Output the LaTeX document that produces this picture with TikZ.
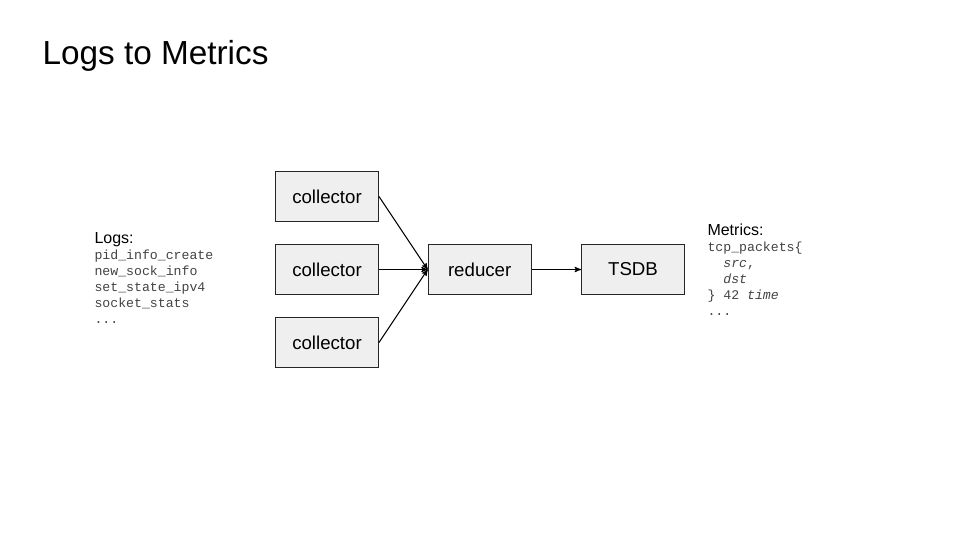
\documentclass[tikz,border=0pt]{standalone}
\usepackage{fontspec}
\setmainfont{Liberation Sans}
\setsansfont{Liberation Sans}
\setmonofont{Liberation Mono}
\usepackage{xcolor}
\usepackage{tikz}
\usetikzlibrary{arrows}
\usetikzlibrary{positioning}
\definecolor{boxfill}{HTML}{EFEFEF}
\definecolor{codegray}{HTML}{434343}

\begin{document}
\begin{tikzpicture}[x=0.75pt,y=-0.75pt,->,>=stealth',semithick,line width=0.75pt]
  \tikzstyle{stage}=[draw=black!85, fill=boxfill, minimum width=77.25pt, minimum height=37.5pt, inner sep=0pt, font=\fontsize{14}{16}\selectfont]
  \tikzstyle{head}=[anchor=base west, inner sep=0pt, font=\fontsize{12}{14}\selectfont]
  \tikzstyle{code}=[anchor=north west, inner sep=0pt, align=left, text=codegray, font=\ttfamily\fontsize{9.9}{12}\selectfont]
  \useasboundingbox (0,0) rectangle (960,540);
  \node[anchor=base west, inner sep=0pt, font=\fontsize{25}{30}\selectfont] (title) at (42,64) {Logs to Metrics};
  % pipeline
  \node[stage] (col2) at (327,269.5) {collector};
  \node[stage] (col1) [above=16.5pt of col2] {collector};
  \node[stage] (col3) [below=16.5pt of col2] {collector};
  \node[stage] (red) [right=36.5pt of col2] {reducer};
  \node[stage] (tsdb) [right=37pt of red] {TSDB};
  \path
    (col1.east) edge (red.west)
    (col2) edge (red)
    (col3.east) edge (red.west)
    (red) edge (tsdb);
  % text at the sides
  \node[head] (logs) at (94,243) {Logs:};
  \node[code] (loglist) at (94,249) {pid\_info\_create\\new\_sock\_info\\set\_state\_ipv4\\socket\_stats\\...};
  \node[head] (metrics) at (707,235) {Metrics:};
  \node[code] (metlist) at (707,241) {tcp\_packets\{\\\phantom{xx}\textit{src},\\\phantom{xx}\textit{dst}\\\} 42 \textit{time}\\...};
\end{tikzpicture}
\end{document}
